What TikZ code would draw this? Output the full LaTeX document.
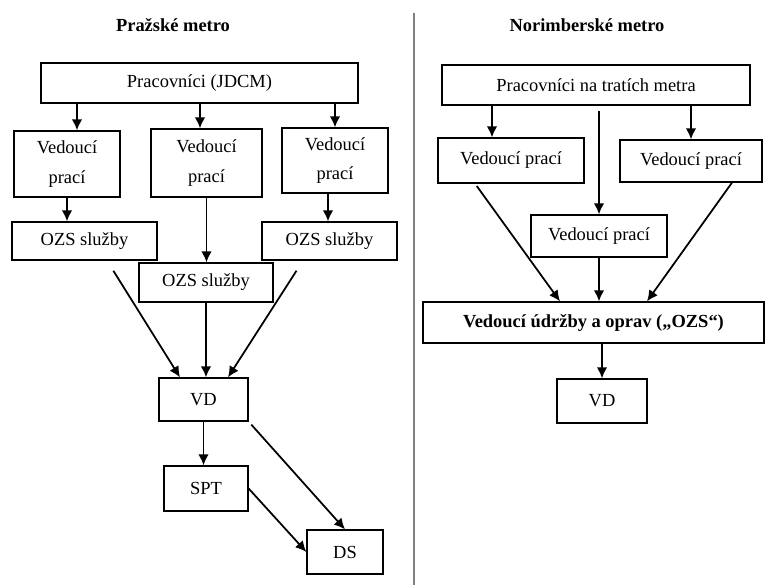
\documentclass[tikz,border=0pt]{standalone}
\usepackage{fontspec}
\setmainfont{Liberation Serif}
\usetikzlibrary{arrows.meta}

\begin{document}
\begin{tikzpicture}[
  font = \fontsize{10.5}{17}\selectfont,
  box/.style = {draw, line width = 0.7pt, inner sep = 0pt, align = center},
  arr/.style = {-{Latex[length = 0.22cm, width = 0.21cm]}, line width = 1pt}
  ]
  \useasboundingbox (0, 0) rectangle (15.3, 11.7);

  % Prazske metro
  \node (PM) at (3.46, 11.2) {\textbf{Pražské metro}};
  \node[box, minimum width = 6.34cm, minimum height = 0.80cm] (PJ) at (3.99, 10.04) {Pracovníci (JDCM)};
  \node[box, minimum width = 2.12cm, minimum height = 1.32cm] (V1) at (1.34, 8.42) {Vedoucí\\prací};
  \node[box, minimum width = 2.22cm, minimum height = 1.36cm] (V2) at (4.13, 8.44) {Vedoucí\\prací};
  \node[box, minimum width = 2.12cm, minimum height = 1.30cm] (V3) at (6.70, 8.49) {Vedoucí\\prací};
  \node[box, minimum width = 2.90cm, minimum height = 0.76cm] (O1) at (1.69, 6.88) {OZS služby};
  \node[box, minimum width = 2.68cm, minimum height = 0.78cm] (O2) at (4.12, 6.05) {OZS služby};
  \node[box, minimum width = 2.70cm, minimum height = 0.76cm] (O3) at (6.59, 6.88) {OZS služby};
  \node[box, minimum width = 1.78cm, minimum height = 0.86cm] (VD) at (4.07, 3.71) {VD};
  \node[box, minimum width = 1.68cm, minimum height = 0.90cm] (SPT) at (4.12, 1.93) {SPT};
  \node[box, minimum width = 1.52cm, minimum height = 0.88cm] (DS) at (6.90, 0.66) {DS};

  \draw[arr] ([xshift = 0.2cm]V1.north |- PJ.south) -- ([xshift = 0.2cm]V1.north);
  \draw[arr] ([xshift = -0.13cm]V2.north |- PJ.south) -- ([xshift = -0.13cm]V2.north);
  \draw[arr] (V3.north |- PJ.south) -- (V3.north);
  \draw[arr] (V1.south) -- (V1.south |- O1.north);
  \draw[arr] (V2.south) -- (V2.south |- O2.north);
  \draw[arr] ([xshift = -0.14cm]V3.south) -- ([xshift = -0.14cm]V3.south |- O3.north);
  \draw[arr, shorten <= 0.24cm] ([xshift = 0.45cm]O1.south) -- ([xshift = -0.47cm]VD.north);
  \draw[arr] (O2.south) -- (O2.south |- VD.north);
  \draw[arr, shorten <= 0.24cm] ([xshift = -0.53cm]O3.south) -- ([xshift = 0.49cm]VD.north);
  \draw[arr] (VD.south) -- (VD.south |- SPT.north);
  \draw[arr, shorten <= 0.08cm] (VD.south east) -- (DS.north);
  \draw[arr] (SPT.east) -- (DS.west);

  % separator
  \draw[gray, line width = 0.6pt] (8.28, 11.44) -- (8.28, 0);

  % Norimberske metro
  \node (NM) at (11.74, 11.2) {\textbf{Norimberské metro}};
  \node[box, minimum width = 6.16cm, minimum height = 0.80cm] (PN) at (11.92, 10.0) {Pracovníci na tratích metra};
  \node[box, minimum width = 2.92cm, minimum height = 0.90cm] (N1) at (10.22, 8.49) {Vedoucí prací};
  \node[box, minimum width = 2.84cm, minimum height = 0.84cm] (N2) at (13.82, 8.48) {Vedoucí prací};
  \node[box, minimum width = 2.72cm, minimum height = 0.84cm] (N3) at (11.98, 6.98) {Vedoucí prací};
  \node[box, minimum width = 6.82cm, minimum height = 0.82cm] (VO) at (11.87, 5.25) {\textbf{Vedoucí údržby a oprav („OZS“)}};
  \node[box, minimum width = 1.80cm, minimum height = 0.88cm] (VDN) at (12.04, 3.68) {VD};

  \draw[arr] ([xshift = -0.38cm]N1.north |- PN.south) -- ([xshift = -0.38cm]N1.north);
  \draw[arr] (N2.north |- PN.south) -- (N2.north);
  \draw[arr, shorten <= 0.1cm] (N3.north |- PN.south) -- (N3.north);
  \draw[arr, shorten <= 0.06cm] ([xshift = -0.72cm]N1.south) -- ([xshift = -0.67cm]VO.north);
  \draw[arr] (N3.south) -- (N3.south |- VO.north);
  \draw[arr] ([xshift = 0.82cm]N2.south) -- ([xshift = 1.07cm]VO.north);
  \draw[arr] (VO.south -| VDN.north) -- (VDN.north);

\end{tikzpicture}
\end{document}
